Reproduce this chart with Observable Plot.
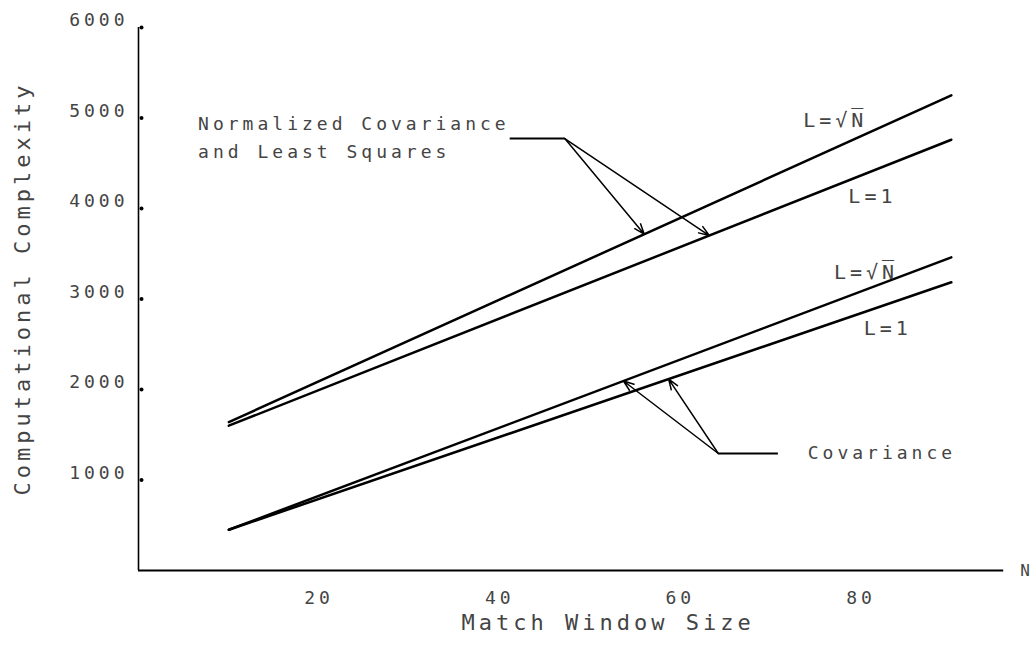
<!DOCTYPE html>
<html>
<head>
<meta charset="utf-8">
<script src="https://cdn.jsdelivr.net/npm/d3@7"></script>
<script src="https://cdn.jsdelivr.net/npm/@observablehq/plot@0.6"></script>
<style>
  html, body { margin: 0; padding: 0; background: #fff; }
  #chart svg text { letter-spacing: 4px; }
</style>
</head>
<body>
<div id="chart"></div>
<script>
// ---- data ----
const xVals = [10, 90];                 // match window size
const ncSqrtN = [1640, 5250];           // Normalized Covariance & LS, L=√N
const ncL1 = [1600, 4760];              // Normalized Covariance & LS, L=1
const covSqrtN = [450, 3460];           // Covariance, L=√N
const covL1 = [450, 3185];              // Covariance, L=1
const seriesNames = ["ncSqrtN", "ncL1", "covSqrtN", "covL1"];
const seriesLabels = ["L=√N̅", "L=1", "L=√N̅", "L=1"];
const xTicks = [20, 40, 60, 80];
const yTicks = [1000, 2000, 3000, 4000, 5000, 6000];
const xTitle = "Match Window Size";
const yTitle = "Computational Complexity";
const groupTitles = ["Normalized Covariance", "and Least Squares", "Covariance"];

const seriesValues = [ncSqrtN, ncL1, covSqrtN, covL1];
const rows = seriesNames.flatMap((name, k) =>
  xVals.map((x, i) => ({series: name, x, y: seriesValues[k][i]})));

// value of a straight series at x
const yAt = (vals, x) => vals[0] + (vals[1] - vals[0]) * (x - xVals[0]) / (xVals[1] - xVals[0]);

// ---- annotation layout (data units) ----
const labelPos = [[73.6, 4972], [78.6, 4133], [77.0, 3293], [80.3, 2674]];
const seriesLabelRows = seriesLabels.map((t, i) => ({t, x: labelPos[i][0], y: labelPos[i][1]}));

const ncElbow = {x: 47.2, y: 4773}, ncLeaderStart = 41.1;
const covElbow = {x: 64.2, y: 1293}, covLeaderEnd = 70.8;
const leaders = [
  {x1: ncLeaderStart, x2: ncElbow.x, y: ncElbow.y},
  {x1: covElbow.x, x2: covLeaderEnd, y: covElbow.y}
];
const arrows = [
  {x1: ncElbow.x, y1: ncElbow.y, x2: 56.0, y2: yAt(ncSqrtN, 56.0)},
  {x1: ncElbow.x, y1: ncElbow.y, x2: 63.2, y2: yAt(ncL1, 63.2)},
  {x1: covElbow.x, y1: covElbow.y, x2: 53.7, y2: yAt(covSqrtN, 53.7)},
  {x1: covElbow.x, y1: covElbow.y, x2: 58.7, y2: yAt(covL1, 58.7)}
];
const groupText = [
  {t: groupTitles[0], x: 6.6, y: 4928},
  {t: groupTitles[1], x: 6.6, y: 4619},
  {t: groupTitles[2], x: 74.1, y: 1293}
];

const mono = "DejaVu Sans Mono";
const ink = "#444";

const chart = Plot.plot({
  width: 1033,
  height: 649,
  marginLeft: 138,
  marginRight: 28,
  marginTop: 27,
  marginBottom: 79,
  style: {background: "#fff", fontFamily: mono, color: ink},
  x: {domain: [0, 96]},
  y: {domain: [0, 6000]},
  marks: [
    Plot.axisX({ticks: xTicks, tickSize: 0, tickPadding: 21, fontSize: 18, fontFamily: mono, label: null}),
    Plot.axisY({ticks: yTicks, tickSize: 0, tickPadding: 10, dy: -7, fontSize: 18, fontFamily: mono,
                tickFormat: d => String(d), label: null}),
    Plot.ruleX([0], {y1: 0, y2: 6000, stroke: "black", strokeWidth: 1.6}),
    Plot.ruleY([0], {x1: 0, x2: 95.8, stroke: "black", strokeWidth: 2}),
    Plot.dot(yTicks, {x: 0, y: d => d, r: 2, fill: "black", dx: 3}),
    Plot.line(rows, {x: "x", y: "y", z: "series", stroke: "black", strokeWidth: 2.5}),
    Plot.link(leaders, {x1: "x1", x2: "x2", y1: "y", y2: "y", stroke: "black", strokeWidth: 2}),
    Plot.arrow(arrows, {x1: "x1", y1: "y1", x2: "x2", y2: "y2", stroke: "black", strokeWidth: 1.5,
                        headLength: 11, headAngle: 40}),
    Plot.text(groupText, {x: "x", y: "y", text: "t", textAnchor: "start", lineAnchor: "middle",
                          fontSize: 18, fontFamily: mono, fill: ink}),
    Plot.text(seriesLabelRows, {x: "x", y: "y", text: "t", textAnchor: "start", lineAnchor: "middle",
                                fontSize: 20, fontFamily: mono, fill: ink}),
    Plot.text([xTitle], {x: 52.0, y: 0, dy: 52, text: d => d, lineAnchor: "middle",
                         fontSize: 22, fontFamily: mono, fill: ink}),
    Plot.text([yTitle], {frameAnchor: "left", y: 3116, dx: -116, rotate: -90, text: d => d,
                         textAnchor: "middle", lineAnchor: "middle", fontSize: 22, fontFamily: mono, fill: ink}),
    Plot.text(["N"], {x: 98.4, y: 0, text: d => d, lineAnchor: "middle", fontSize: 16,
                      fontFamily: mono, fill: ink})
  ]
});
document.getElementById("chart").appendChild(chart);
</script>
</body>
</html>
